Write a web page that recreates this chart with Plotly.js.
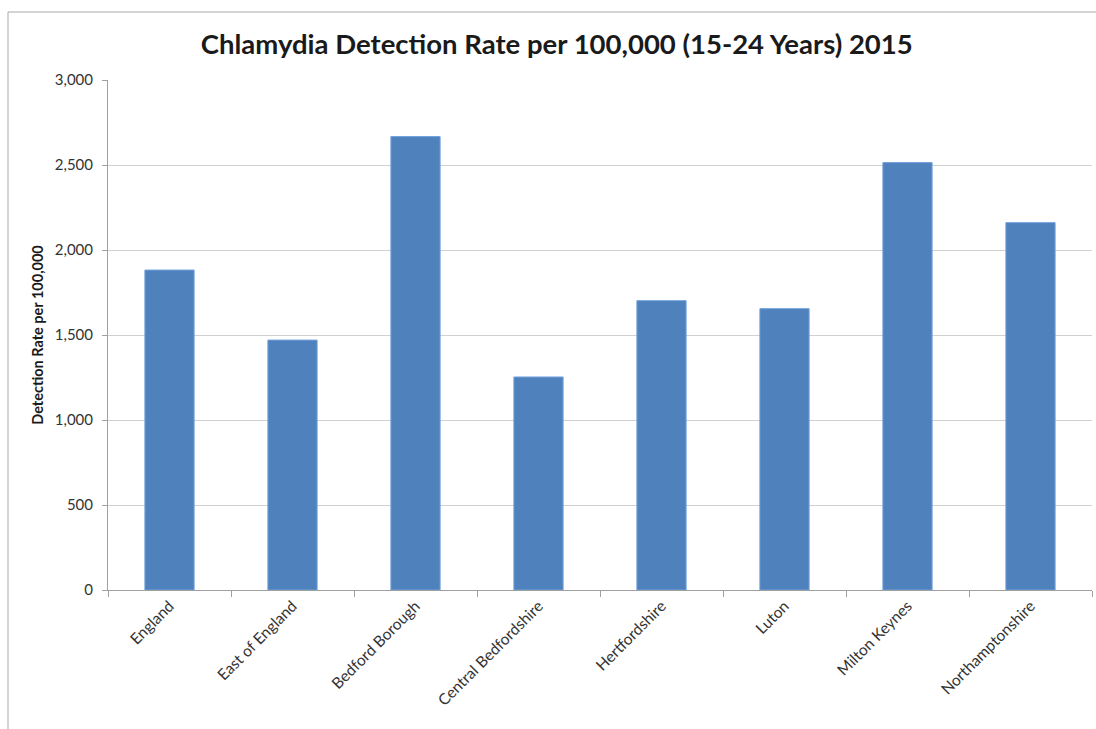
<!DOCTYPE html>
<html>
<head>
<meta charset="utf-8">
<script src="https://cdn.plot.ly/plotly-3.0.1.min.js"></script>
<style>
html,body{margin:0;padding:0;background:#fff;}
#chart{width:1096px;height:729px;}
</style>
</head>
<body>
<div id="chart"></div>
<script>
const categories = ["England","East of England","Bedford Borough","Central Bedfordshire","Hertfordshire","Luton","Milton Keynes","Northamptonshire"];
const detectionRates = [1882, 1470, 2667, 1253, 1702, 1655, 2514, 2161];
const yTickValues = [0, 500, 1000, 1500, 2000, 2500, 3000];
const yTickLabels = ["0", "500", "1,000", "1,500", "2,000", "2,500", "3,000"];

const trace = {
  type: 'bar',
  x: categories,
  y: detectionRates,
  marker: {color: '#4F81BD', line: {color: '#6FA0DA', width: 1}},
  width: 0.4,
  hoverinfo: 'x+y'
};

const L = 108, R = 4, T = 80, B = 139, W = 1096, H = 729;
const pw = W - L - R, ph = H - T - B;
const px = v => (v - L) / pw;
const py = v => 1 - (v - T) / ph;

const layout = {
  width: W, height: H,
  margin: {l: L, r: R, t: T, b: B},
  paper_bgcolor: '#fff',
  plot_bgcolor: '#fff',
  font: {family: 'Lato, "Open Sans", sans-serif', size: 15, color: '#333333'},
  title: {
    text: '<b>Chlamydia Detection Rate per 100,000 (15-24 Years) 2015</b>',
    font: {family: 'Lato, "Open Sans", sans-serif', size: 27.5, color: '#1a1a1a'},
    x: 0.508, xanchor: 'center', y: 1 - 44 / H, yanchor: 'middle'
  },
  xaxis: {
    type: 'category',
    tickangle: -45,
    ticks: 'outside', ticklen: 6, tickcolor: '#A0A0A0',
    tickson: 'boundaries',
    showline: true, linecolor: '#A0A0A0', linewidth: 1,
    showgrid: false,
    tickfont: {size: 15.5, color: '#333333'},
    range: [-0.5, 7.5]
  },
  yaxis: {
    range: [0, 3000],
    tickvals: yTickValues, ticktext: yTickLabels,
    ticks: 'outside', ticklen: 5, tickcolor: '#A0A0A0',
    showline: true, linecolor: '#A0A0A0', linewidth: 1,
    showgrid: true, gridcolor: '#D0D0D0', gridwidth: 1,
    zeroline: false,
    ticklabelstandoff: 6,
    tickfont: {size: 15, color: '#333333'},
    title: {text: '<b>Detection Rate per 100,000</b>', font: {size: 14.5, color: '#1a1a1a'}, standoff: 7}
  },
  shapes: [
    {type: 'line', xref: 'paper', yref: 'paper', x0: px(8), x1: px(8), y0: py(12), y1: py(729), line: {color: '#A8A8A8', width: 1}},
    {type: 'line', xref: 'paper', yref: 'paper', x0: px(8), x1: px(1096), y0: py(12), y1: py(12), line: {color: '#A8A8A8', width: 1}}
  ],
  showlegend: false,
  bargap: 0.6
};

Plotly.newPlot('chart', [trace], layout, {displayModeBar: false, staticPlot: true});
</script>
</body>
</html>
